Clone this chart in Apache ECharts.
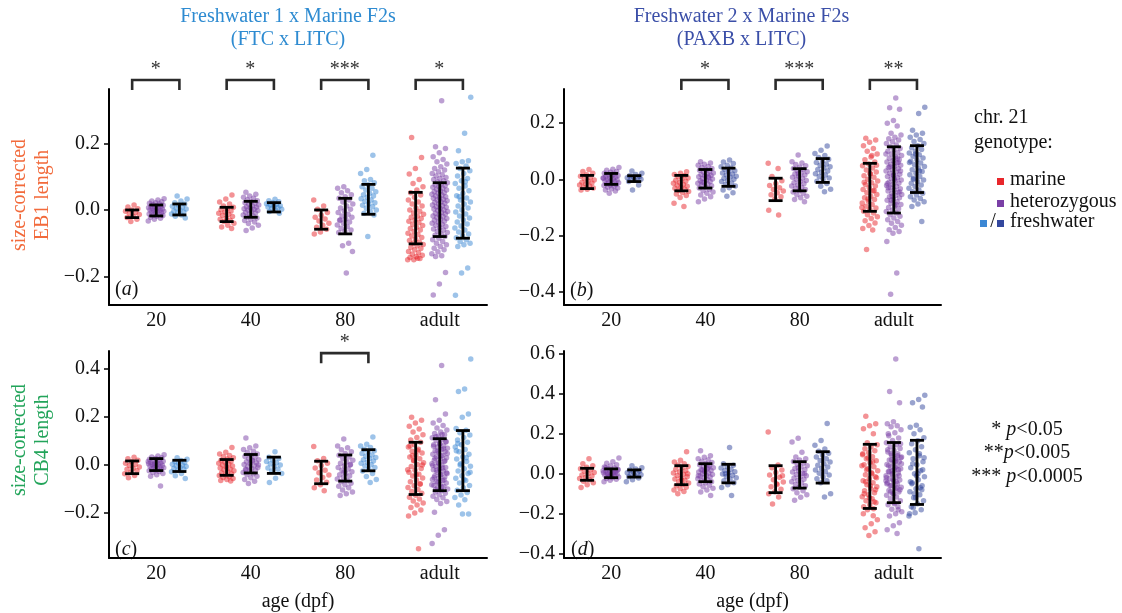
<!DOCTYPE html>
<html><head><meta charset="utf-8">
<script src="https://cdn.jsdelivr.net/npm/echarts@6.0.0/dist/echarts.min.js"></script>
<style>html,body{margin:0;padding:0;background:#fff}#c{width:1122px;height:613px}</style>
</head><body><div id="c"></div>
<script>
// ---------------- data ----------------
const categories = ['20', '40', '80', 'adult'];
const genotypeNames = ['marine', 'heterozygous', 'freshwater'];

// Panel (a): EB1, FTC x LITC  — per category [20, 40, 80, adult]
const A_marine = [
  [0.015,0.009,0.004,0.0,-0.004,-0.008,-0.011,-0.014,-0.019,-0.023,-0.028,-0.035],
  [0.045,0.033,0.024,0.018,0.012,0.008,0.004,0.001,-0.003,-0.006,-0.01,-0.013,-0.016,-0.02,-0.024,-0.028,-0.031,-0.035,-0.04,-0.046,-0.051,-0.056],
  [0.03,0.012,0.002,-0.008,-0.016,-0.022,-0.027,-0.033,-0.04,-0.046,-0.052,-0.058,-0.066,-0.072],
  [0.218,0.158,0.125,0.108,0.092,0.08,0.07,0.06,0.052,0.045,0.038,0.03,0.024,0.018,0.012,0.006,0.0,-0.004,-0.009,-0.013,-0.018,-0.022,-0.026,-0.03,-0.034,-0.038,-0.043,-0.047,-0.052,-0.056,-0.06,-0.065,-0.07,-0.074,-0.078,-0.083,-0.088,-0.092,-0.097,-0.1,-0.104,-0.108,-0.112,-0.116,-0.12,-0.125,-0.129,-0.133,-0.136,-0.14,-0.143,-0.146,-0.15,-0.15,-0.145]
];
const A_het = [
  [0.034,0.03,0.027,0.025,0.022,0.02,0.018,0.016,0.014,0.013,0.011,0.01,0.008,0.007,0.005,0.004,0.003,0.001,0.0,-0.001,-0.002,-0.004,-0.005,-0.007,-0.008,-0.01,-0.012,-0.013,-0.015,-0.017,-0.019,-0.022,-0.025,-0.028,-0.033],
  [0.053,0.047,0.042,0.038,0.035,0.031,0.028,0.025,0.022,0.02,0.017,0.015,0.012,0.01,0.008,0.006,0.004,0.002,0.0,-0.002,-0.004,-0.007,-0.009,-0.012,-0.015,-0.018,-0.021,-0.024,-0.028,-0.032,-0.036,-0.041,-0.046,-0.054,-0.062],
  [0.07,0.065,0.058,0.052,0.046,0.04,0.035,0.03,0.024,0.018,0.012,0.006,0.002,-0.003,-0.008,-0.013,-0.018,-0.022,-0.027,-0.031,-0.036,-0.04,-0.045,-0.05,-0.055,-0.06,-0.064,-0.068,-0.1,-0.108,-0.125,-0.19,-0.03],
  [0.329,0.19,0.185,0.172,0.16,0.152,0.145,0.138,0.13,0.125,0.12,0.115,0.11,0.106,0.102,0.098,0.095,0.092,0.088,0.085,0.082,0.079,0.076,0.073,0.07,0.068,0.065,0.062,0.06,0.057,0.055,0.052,0.05,0.047,0.045,0.042,0.04,0.037,0.035,0.032,0.03,0.028,0.025,0.023,0.02,0.018,0.015,0.013,0.01,0.008,0.005,0.003,0.0,-0.002,-0.005,-0.007,-0.01,-0.012,-0.015,-0.018,-0.02,-0.023,-0.026,-0.028,-0.031,-0.034,-0.037,-0.04,-0.043,-0.046,-0.05,-0.053,-0.057,-0.06,-0.064,-0.068,-0.072,-0.076,-0.08,-0.085,-0.09,-0.095,-0.1,-0.105,-0.11,-0.115,-0.12,-0.126,-0.132,-0.138,-0.14,-0.188,-0.223,-0.256]
];
const A_fw = [
  [0.042,0.033,0.027,0.022,0.018,0.014,0.011,0.008,0.005,0.003,0.0,-0.003,-0.006,-0.009,-0.012,-0.015,-0.019,-0.024],
  [0.032,0.028,0.025,0.022,0.019,0.017,0.015,0.013,0.011,0.009,0.007,0.005,0.002,-0.001,-0.005,-0.01],
  [0.165,0.122,0.11,0.092,0.088,0.082,0.076,0.07,0.065,0.06,0.055,0.05,0.046,0.042,0.038,0.034,0.03,0.026,0.022,0.018,0.014,0.01,0.005,0.0,-0.005,-0.01,-0.015,-0.08],
  [0.339,0.231,0.178,0.148,0.145,0.14,0.132,0.125,0.118,0.11,0.102,0.095,0.088,0.08,0.072,0.065,0.058,0.05,0.043,0.036,0.03,0.024,0.018,0.012,0.006,0.0,-0.006,-0.012,-0.018,-0.024,-0.03,-0.036,-0.042,-0.048,-0.054,-0.06,-0.066,-0.072,-0.078,-0.084,-0.09,-0.095,-0.1,-0.105,-0.11,-0.175,-0.19,-0.257,0.085,0.04]
];

// Panel (b): EB1, PAXB x LITC
const B_marine = [
  [0.035,0.028,0.022,0.016,0.011,0.006,0.002,-0.002,-0.006,-0.01,-0.013,-0.017,-0.02,-0.024,-0.028,-0.031,-0.035,-0.038],
  [0.027,0.022,0.017,0.013,0.009,0.005,0.001,-0.003,-0.007,-0.011,-0.014,-0.018,-0.021,-0.025,-0.028,-0.032,-0.035,-0.039,-0.043,-0.047,-0.052,-0.058,-0.065,-0.085,-0.097],
  [0.057,0.039,0.01,-0.005,-0.015,-0.022,-0.03,-0.036,-0.042,-0.048,-0.055,-0.062,-0.07,-0.11,-0.127],
  [0.146,0.14,0.132,0.12,0.11,0.1,0.09,0.08,0.07,0.062,0.055,0.048,0.04,0.033,0.026,0.02,0.013,0.007,0.0,-0.006,-0.012,-0.018,-0.024,-0.03,-0.036,-0.042,-0.048,-0.054,-0.06,-0.066,-0.072,-0.078,-0.084,-0.09,-0.096,-0.102,-0.108,-0.114,-0.12,-0.126,-0.133,-0.14,-0.148,-0.156,-0.165,-0.175,-0.181,-0.25,0.05,0.02,-0.01,-0.04,-0.07,-0.1,0.085]
];
const B_het = [
  [0.042,0.036,0.032,0.028,0.025,0.022,0.019,0.017,0.014,0.012,0.01,0.008,0.006,0.004,0.002,0.0,-0.002,-0.004,-0.006,-0.008,-0.01,-0.012,-0.014,-0.016,-0.018,-0.02,-0.022,-0.025,-0.028,-0.031,-0.034,-0.038,-0.042,-0.05,0.005],
  [0.063,0.058,0.054,0.05,0.046,0.042,0.039,0.035,0.032,0.029,0.026,0.023,0.02,0.017,0.014,0.012,0.009,0.006,0.003,0.001,-0.002,-0.005,-0.008,-0.011,-0.014,-0.017,-0.02,-0.023,-0.027,-0.031,-0.035,-0.04,-0.045,-0.05,-0.056,-0.062,-0.07,-0.08,0.01,-0.01],
  [0.087,0.063,0.058,0.053,0.048,0.043,0.039,0.035,0.031,0.027,0.023,0.019,0.015,0.011,0.007,0.004,0.0,-0.004,-0.008,-0.012,-0.016,-0.02,-0.024,-0.028,-0.032,-0.036,-0.04,-0.045,-0.05,-0.055,-0.06,-0.066,-0.072,-0.08,0.02],
  [0.29,0.255,0.25,0.21,0.2,0.19,0.164,0.158,0.15,0.145,0.14,0.134,0.128,0.122,0.116,0.11,0.105,0.1,0.095,0.09,0.085,0.08,0.075,0.07,0.066,0.062,0.058,0.054,0.05,0.046,0.042,0.038,0.034,0.03,0.026,0.022,0.018,0.014,0.01,0.006,0.002,-0.002,-0.006,-0.01,-0.014,-0.018,-0.022,-0.026,-0.03,-0.034,-0.038,-0.042,-0.046,-0.05,-0.054,-0.058,-0.062,-0.066,-0.07,-0.075,-0.08,-0.085,-0.09,-0.095,-0.1,-0.105,-0.11,-0.115,-0.12,-0.126,-0.132,-0.138,-0.144,-0.15,-0.157,-0.164,-0.172,-0.18,-0.186,-0.192,-0.222,-0.334,-0.41,0.03,0.0,-0.03,0.06,-0.06,0.09,-0.09,0.045,-0.045,0.015,-0.015,0.075,-0.075]
];
const B_fw = [
  [0.03,0.022,0.017,0.013,0.01,0.008,0.006,0.004,0.002,0.0,-0.003,-0.008,-0.02,-0.038],
  [0.069,0.062,0.056,0.05,0.045,0.04,0.035,0.031,0.027,0.023,0.019,0.015,0.011,0.008,0.004,0.0,-0.004,-0.008,-0.013,-0.018,-0.024,-0.03,-0.038,-0.048,-0.06],
  [0.119,0.104,0.092,0.085,0.078,0.072,0.066,0.06,0.055,0.05,0.045,0.04,0.035,0.03,0.025,0.02,0.015,0.01,0.005,0.0,-0.007,-0.015,-0.025,-0.035,-0.044],
  [0.257,0.235,0.175,0.164,0.158,0.15,0.142,0.135,0.128,0.12,0.113,0.106,0.1,0.094,0.088,0.082,0.076,0.07,0.064,0.058,0.052,0.046,0.04,0.034,0.028,0.022,0.016,0.01,0.004,-0.002,-0.008,-0.014,-0.02,-0.026,-0.032,-0.038,-0.044,-0.05,-0.056,-0.062,-0.068,-0.074,-0.08,-0.088,-0.097,-0.15,0.09,0.06,0.03,0.0]
];

// Panel (c): CB4, FTC x LITC
const C_marine = [
  [0.033,0.026,0.02,0.014,0.008,0.003,-0.002,-0.008,-0.013,-0.018,-0.024,-0.03,-0.036,-0.044,-0.053],
  [0.073,0.053,0.046,0.04,0.035,0.03,0.025,0.02,0.016,0.012,0.008,0.004,0.0,-0.004,-0.008,-0.012,-0.016,-0.02,-0.024,-0.028,-0.032,-0.036,-0.04,-0.044,-0.048,-0.052,-0.056,-0.06,-0.064,-0.067],
  [0.077,0.027,0.018,0.008,-0.002,-0.012,-0.022,-0.032,-0.042,-0.052,-0.062,-0.072,-0.082,-0.095,-0.107],
  [0.2,0.187,0.175,0.162,0.15,0.138,0.126,0.115,0.105,0.095,0.085,0.075,0.066,0.058,0.05,0.042,0.034,0.026,0.018,0.01,0.002,-0.006,-0.014,-0.022,-0.03,-0.038,-0.046,-0.054,-0.062,-0.07,-0.078,-0.086,-0.094,-0.102,-0.11,-0.118,-0.126,-0.134,-0.142,-0.15,-0.158,-0.167,-0.177,-0.188,-0.2,-0.213,-0.349,0.04,0.0,-0.04,0.08,-0.08,0.02,-0.02,0.06]
];
const C_het = [
  [0.043,0.038,0.034,0.03,0.027,0.024,0.021,0.018,0.016,0.013,0.011,0.009,0.007,0.005,0.003,0.001,-0.001,-0.003,-0.005,-0.007,-0.009,-0.011,-0.013,-0.015,-0.018,-0.021,-0.024,-0.027,-0.031,-0.035,-0.04,-0.047,-0.087,0.0,0.015],
  [0.113,0.08,0.072,0.065,0.058,0.052,0.046,0.041,0.036,0.031,0.026,0.022,0.018,0.014,0.01,0.006,0.002,-0.002,-0.006,-0.01,-0.014,-0.018,-0.022,-0.026,-0.031,-0.036,-0.041,-0.047,-0.053,-0.06,-0.068,-0.077,0.0,0.02,-0.02],
  [0.109,0.08,0.072,0.064,0.056,0.048,0.041,0.034,0.027,0.02,0.014,0.008,0.002,-0.004,-0.01,-0.016,-0.022,-0.028,-0.034,-0.04,-0.046,-0.052,-0.058,-0.064,-0.07,-0.076,-0.082,-0.088,-0.095,-0.104,-0.113,-0.12,-0.127,0.0,-0.03],
  [0.416,0.273,0.213,0.187,0.175,0.165,0.155,0.146,0.138,0.132,0.126,0.12,0.114,0.108,0.102,0.096,0.09,0.085,0.08,0.075,0.07,0.065,0.06,0.055,0.05,0.045,0.04,0.035,0.03,0.025,0.02,0.015,0.01,0.005,0.0,-0.005,-0.01,-0.015,-0.02,-0.025,-0.03,-0.035,-0.04,-0.045,-0.05,-0.055,-0.06,-0.065,-0.07,-0.075,-0.08,-0.085,-0.09,-0.095,-0.1,-0.106,-0.112,-0.118,-0.124,-0.13,-0.137,-0.144,-0.152,-0.16,-0.197,-0.27,-0.293,-0.327,0.128,0.118,0.098,0.088,0.078,0.068,0.058,0.048,0.038,0.028,0.018,0.008,-0.002,-0.012,-0.022,-0.032,-0.042,-0.052,-0.062,-0.072,-0.082,-0.092,-0.102]
];
const C_fw = [
  [0.03,0.024,0.019,0.015,0.011,0.007,0.003,0.0,-0.003,-0.006,-0.01,-0.014,-0.018,-0.023,-0.028,-0.035,-0.045,-0.056],
  [0.056,0.033,0.027,0.021,0.015,0.01,0.005,0.0,-0.006,-0.012,-0.018,-0.025,-0.035,-0.055,-0.073],
  [0.117,0.087,0.08,0.073,0.066,0.06,0.054,0.048,0.042,0.037,0.032,0.027,0.022,0.017,0.012,0.007,0.002,-0.004,-0.01,-0.017,-0.025,-0.035,-0.048,-0.06,-0.073],
  [0.443,0.317,0.307,0.213,0.2,0.153,0.145,0.135,0.125,0.115,0.105,0.095,0.085,0.075,0.065,0.055,0.045,0.035,0.025,0.015,0.005,-0.005,-0.015,-0.025,-0.035,-0.045,-0.055,-0.065,-0.075,-0.085,-0.095,-0.105,-0.115,-0.125,-0.135,-0.145,-0.167,-0.204,-0.204,0.06,0.03,0.0,-0.03,-0.06,0.09]
];

// Panel (d): CB4, PAXB x LITC
const D_marine = [
  [0.075,0.05,0.04,0.032,0.025,0.018,0.012,0.006,0.0,-0.006,-0.012,-0.018,-0.024,-0.03,-0.038,-0.046,-0.056,-0.069],
  [0.11,0.067,0.058,0.05,0.043,0.036,0.029,0.022,0.015,0.009,0.003,-0.003,-0.009,-0.015,-0.021,-0.027,-0.033,-0.04,-0.047,-0.054,-0.061,-0.068,-0.075,-0.082,-0.089,-0.1,0.0,-0.03],
  [0.208,0.043,0.03,0.018,0.006,-0.006,-0.018,-0.03,-0.042,-0.054,-0.066,-0.078,-0.09,-0.1,-0.117,-0.152,-0.01,-0.05],
  [0.288,0.25,0.24,0.225,0.2,0.155,0.145,0.135,0.125,0.115,0.105,0.095,0.085,0.075,0.065,0.055,0.045,0.035,0.025,0.015,0.005,-0.005,-0.015,-0.025,-0.035,-0.045,-0.055,-0.065,-0.075,-0.085,-0.095,-0.105,-0.115,-0.125,-0.135,-0.145,-0.155,-0.165,-0.175,-0.18,-0.23,-0.25,-0.27,-0.29,-0.31,0.1,0.06,0.02,-0.02,-0.06,-0.1,-0.14,0.08,0.04,0.0,-0.04,-0.08,-0.12,-0.2,-0.21]
];
const D_het = [
  [0.078,0.06,0.052,0.045,0.039,0.034,0.029,0.025,0.021,0.017,0.014,0.011,0.008,0.005,0.002,0.0,-0.002,-0.005,-0.008,-0.011,-0.014,-0.017,-0.02,-0.024,-0.028,-0.033,-0.04,0.01,0.0,0.02,-0.01,0.03,0.005,-0.015,0.015],
  [0.115,0.09,0.082,0.075,0.068,0.062,0.056,0.05,0.045,0.04,0.035,0.03,0.025,0.02,0.016,0.012,0.008,0.004,0.0,-0.004,-0.008,-0.012,-0.016,-0.02,-0.025,-0.03,-0.035,-0.04,-0.046,-0.052,-0.058,-0.065,-0.073,-0.082,-0.092,-0.109,0.01,-0.01,0.03,0.02],
  [0.177,0.158,0.107,0.083,0.075,0.068,0.061,0.054,0.047,0.04,0.033,0.026,0.02,0.014,0.008,0.002,-0.004,-0.01,-0.016,-0.022,-0.028,-0.034,-0.04,-0.047,-0.054,-0.061,-0.068,-0.076,-0.085,-0.095,-0.106,-0.118,-0.133,0.0,0.03],
  [0.574,0.411,0.355,0.26,0.25,0.24,0.235,0.22,0.205,0.19,0.178,0.166,0.155,0.145,0.135,0.126,0.117,0.108,0.1,0.092,0.084,0.076,0.068,0.06,0.053,0.046,0.039,0.032,0.025,0.018,0.011,0.004,-0.003,-0.01,-0.017,-0.024,-0.031,-0.038,-0.045,-0.052,-0.06,-0.068,-0.076,-0.084,-0.092,-0.1,-0.108,-0.117,-0.126,-0.135,-0.145,-0.155,-0.166,-0.178,-0.19,-0.2,-0.212,-0.245,-0.26,-0.28,-0.3,0.1,0.08,0.06,0.04,0.02,0.0,-0.02,-0.04,-0.06,-0.08,-0.1,0.12,0.09,0.07,0.05,0.03,0.01,-0.01,-0.03,-0.05,-0.07,-0.09,0.15,-0.15,0.2,-0.18,0.015,-0.035,0.065]
];
const D_fw = [
  [0.04,0.03,0.024,0.018,0.013,0.009,0.005,0.002,-0.001,-0.005,-0.01,-0.015,-0.022,-0.03,-0.04],
  [0.131,0.05,0.042,0.035,0.028,0.022,0.016,0.01,0.004,-0.002,-0.008,-0.014,-0.02,-0.027,-0.035,-0.045,-0.056,-0.069,-0.109,0.0],
  [0.251,0.166,0.142,0.123,0.112,0.102,0.093,0.084,0.075,0.066,0.058,0.05,0.042,0.034,0.026,0.018,0.01,0.002,-0.006,-0.015,-0.025,-0.035,-0.045,-0.1,-0.117],
  [0.392,0.371,0.355,0.334,0.243,0.232,0.22,0.2,0.18,0.165,0.15,0.135,0.12,0.105,0.09,0.075,0.06,0.045,0.03,0.015,0.0,-0.015,-0.03,-0.045,-0.06,-0.075,-0.09,-0.105,-0.12,-0.135,-0.15,-0.165,-0.18,-0.195,-0.212,-0.376,0.05,0.02,-0.01,-0.04,-0.07,-0.1,0.08,0.0,-0.05,-0.08,-0.12,-0.2,0.1,-0.17]
];

// error bars [low, high] per category
const barsA_marine = [[-0.023,0.0],[-0.035,0.008],[-0.058,0.0],[-0.102,0.053]];
const barsA_het    = [[-0.018,0.015],[-0.022,0.026],[-0.072,0.035],[-0.08,0.082]];
const barsA_fw     = [[-0.015,0.018],[-0.006,0.022],[-0.013,0.077],[-0.085,0.126]];
const barsB_marine = [[-0.033,0.014],[-0.041,0.014],[-0.076,0.004],[-0.114,0.057]];
const barsB_het    = [[-0.018,0.021],[-0.031,0.035],[-0.041,0.038],[-0.12,0.116]];
const barsB_fw     = [[-0.008,0.013],[-0.025,0.04],[-0.011,0.074],[-0.047,0.12]];
const barsC_marine = [[-0.036,0.017],[-0.043,0.023],[-0.078,0.016],[-0.123,0.095]];
const barsC_het    = [[-0.023,0.027],[-0.033,0.044],[-0.067,0.042],[-0.107,0.11]];
const barsC_fw     = [[-0.027,0.02],[-0.035,0.033],[-0.024,0.064],[-0.107,0.144]];
const barsD_marine = [[-0.033,0.027],[-0.055,0.04],[-0.095,0.04],[-0.174,0.147]];
const barsD_het    = [[-0.02,0.024],[-0.04,0.05],[-0.072,0.06],[-0.145,0.156]];
const barsD_fw     = [[-0.017,0.019],[-0.046,0.047],[-0.047,0.11],[-0.154,0.167]];

// significance (marine vs freshwater) per category
const sigA = ['*', '*', '***', '*'];
const sigB = ['', '*', '***', '**'];
const sigC = ['', '', '*', ''];
const sigD = ['', '', '', ''];

// y-axis tick values
const ticksA = [-0.2, 0, 0.2];
const ticksB = [-0.4, -0.2, 0, 0.2];
const ticksC = [-0.2, 0, 0.2, 0.4];
const ticksD = [-0.4, -0.2, 0, 0.2, 0.4, 0.6];

// ---------------- styling / layout ----------------
const FONT = 'Liberation Serif';
const RED = '#e8262b', PURPLE = '#7a3fa6', LBLUE = '#3b87d4', DBLUE = '#34489e';
const OFFSETS = [-0.255, 0, 0.245];
const JIT = 0.085;

const panels = [
  {grid:{left:109, top:89, width:378, height:216}, yMin:-0.286, yMax:0.364, ticks:ticksA,
   points:[A_marine, A_het, A_fw], bars:[barsA_marine, barsA_het, barsA_fw], sig:sigA, bracketY:0.391,
   colors:[RED, PURPLE, LBLUE], xName:''},
  {grid:{left:564, top:89, width:377, height:216}, yMin:-0.448, yMax:0.322, ticks:ticksB,
   points:[B_marine, B_het, B_fw], bars:[barsB_marine, barsB_het, barsB_fw], sig:sigB, bracketY:0.354,
   colors:[RED, PURPLE, DBLUE], xName:''},
  {grid:{left:109, top:351, width:378, height:216}, yMin:-0.388, yMax:0.476, ticks:ticksC,
   points:[C_marine, C_het, C_fw], bars:[barsC_marine, barsC_het, barsC_fw], sig:sigC, bracketY:0.467,
   colors:[RED, PURPLE, LBLUE], xName:'age (dpf)'},
  {grid:{left:564, top:351, width:377, height:216}, yMin:-0.422, yMax:0.614, ticks:ticksD,
   points:[D_marine, D_het, D_fw], bars:[barsD_marine, barsD_het, barsD_fw], sig:sigD, bracketY:0.6,
   colors:[RED, PURPLE, DBLUE], xName:'age (dpf)'}
];

function jitter(i, g, c) {
  const f = ((i + 1) * 0.6180339887 + g * 0.37 + c * 0.21) % 1;
  return (f - 0.5) * 2 * JIT;
}
const fmt = v => (v < -1e-9 ? '\u2212' : '') + Math.abs(v).toFixed(1);

const grids = [], xAxes = [], yAxes = [], series = [];
panels.forEach((p, pi) => {
  grids.push(Object.assign({containLabel:false}, p.grid));
  xAxes.push({
    type:'category', gridIndex:pi, data:categories, boundaryGap:true, position:'bottom',
    axisLine:{onZero:false, lineStyle:{color:'#000', width:2}},
    axisTick:{alignWithLabel:true, length:5, lineStyle:{color:'#000', width:1.5}},
    axisLabel:{color:'#111', fontFamily:FONT, fontSize:20, margin:6},
    name:p.xName, nameLocation:'middle', nameGap:34,
    nameTextStyle:{color:'#111', fontFamily:FONT, fontSize:20}
  });
  xAxes.push({type:'value', gridIndex:pi, min:0, max:4, show:false, position:'top'});
  yAxes.push({
    type:'value', gridIndex:pi, min:p.yMin, max:p.yMax, splitLine:{show:false},
    axisLine:{show:true, onZero:false, lineStyle:{color:'#000', width:2}},
    axisTick:{show:true, customValues:p.ticks, length:5, lineStyle:{color:'#000', width:1.5}},
    axisLabel:{customValues:p.ticks, formatter:fmt, color:'#111', fontFamily:FONT, fontSize:20, margin:9}
  });
  const xi = pi * 2 + 1;
  p.points.forEach((groups, g) => {
    const data = [];
    groups.forEach((vals, c) => vals.forEach((v, i) => data.push([c + 0.5 + OFFSETS[g] + jitter(i, g, c), v])));
    series.push({type:'scatter', name:genotypeNames[g], xAxisIndex:xi, yAxisIndex:pi, data,
      symbol:'circle', symbolSize:5.5, itemStyle:{color:p.colors[g], opacity:0.5}, z:2, silent:true});
  });
  const barData = [];
  p.bars.forEach((arr, g) => arr.forEach((lh, c) => barData.push([c + 0.5 + OFFSETS[g], lh[0], lh[1]])));
  series.push({type:'custom', xAxisIndex:xi, yAxisIndex:pi, data:barData, encode:{x:0, y:[1, 2]}, z:5, silent:true,
    renderItem:(params, api) => {
      const lo = api.coord([api.value(0), api.value(1)]), hi = api.coord([api.value(0), api.value(2)]);
      const w = 7, st = {stroke:'#000', lineWidth:2.8, lineCap:'butt'};
      return {type:'group', children:[
        {type:'line', shape:{x1:lo[0], y1:lo[1], x2:hi[0], y2:hi[1]}, style:st},
        {type:'line', shape:{x1:lo[0] - w, y1:lo[1], x2:lo[0] + w, y2:lo[1]}, style:st},
        {type:'line', shape:{x1:hi[0] - w, y1:hi[1], x2:hi[0] + w, y2:hi[1]}, style:st}
      ]};
    }});
  const brLabels = [], brData = [];
  p.sig.forEach((s, c) => { if (s) { brLabels.push(s); brData.push([c + 0.5 + OFFSETS[0], c + 0.5 + OFFSETS[2], p.bracketY]); } });
  if (brData.length) {
    series.push({type:'custom', xAxisIndex:xi, yAxisIndex:pi, data:brData, encode:{x:[0, 1], y:2}, clip:false, z:6, silent:true,
      renderItem:(params, api) => {
        const l = api.coord([api.value(0), api.value(2)]), r = api.coord([api.value(1), api.value(2)]);
        const st = {stroke:'#2b2b2b', lineWidth:2.6, fill:null};
        return {type:'group', children:[
          {type:'polyline', shape:{points:[[l[0], l[1] + 10], [l[0], l[1]], [r[0], r[1]], [r[0], r[1] + 10]]}, style:st},
          {type:'text', x:(l[0] + r[0]) / 2, y:l[1] - 10,
           style:{text:brLabels[params.dataIndex], fill:'#333', font:'20px ' + FONT, align:'center', verticalAlign:'middle'}}
        ]};
      }});
  }
});

const T = (x, y, text, opts) => ({type:'text', x, y, silent:true,
  style:Object.assign({text, font:'20px "' + FONT + '"', fill:'#111', align:'left', verticalAlign:'middle'}, opts || {})});
const italic = {i:{fontStyle:'italic', fontFamily:FONT, fontSize:20, fill:'#111'}};
const graphic = [
  T(288, 28.5, 'Freshwater 1 x Marine F2s\n(FTC x LITC)', {align:'center', fill:'#2e8bd1', lineHeight:23}),
  T(741.5, 28.5, 'Freshwater 2 x Marine F2s\n(PAXB x LITC)', {align:'center', fill:'#3b4fa8', lineHeight:23}),
  Object.assign(T(31, 195, 'size-corrected\nEB1 length', {align:'center', fill:'#f26a3b', lineHeight:23}), {rotation:Math.PI / 2}),
  Object.assign(T(31, 440, 'size-corrected\nCB4 length', {align:'center', fill:'#22a45a', lineHeight:23}), {rotation:Math.PI / 2}),
  T(974, 118, 'chr. 21'),
  T(974, 143, 'genotype:'),
  {type:'rect', shape:{x:997, y:178, width:7, height:7}, style:{fill:RED}, silent:true},
  T(1010, 180, 'marine'),
  {type:'rect', shape:{x:997, y:200, width:7, height:7}, style:{fill:PURPLE}, silent:true},
  T(1010, 202, 'heterozygous'),
  {type:'rect', shape:{x:980, y:220, width:7, height:7}, style:{fill:LBLUE}, silent:true},
  T(993, 222, '/', {align:'center'}),
  {type:'rect', shape:{x:997, y:220, width:7, height:7}, style:{fill:DBLUE}, silent:true},
  T(1010, 222, 'freshwater'),
  T(1027, 430, '* {i|p}<0.05', {align:'center', rich:italic}),
  T(1027, 453, '**{i|p}<0.005', {align:'center', rich:italic}),
  T(1027, 477, '*** {i|p}<0.0005', {align:'center', rich:italic}),
  T(115, 290, '({i|a})', {rich:italic}),
  T(570, 291, '({i|b})', {rich:italic}),
  T(115, 550, '({i|c})', {rich:italic}),
  T(571, 550, '({i|d})', {rich:italic})
];

const chart = echarts.init(document.getElementById('c'), null, {renderer:'canvas'});
chart.setOption({
  animation:false, backgroundColor:'#fff',
  textStyle:{fontFamily:FONT},
  grid:grids, xAxis:xAxes, yAxis:yAxes, series, graphic
});
</script></body></html>
